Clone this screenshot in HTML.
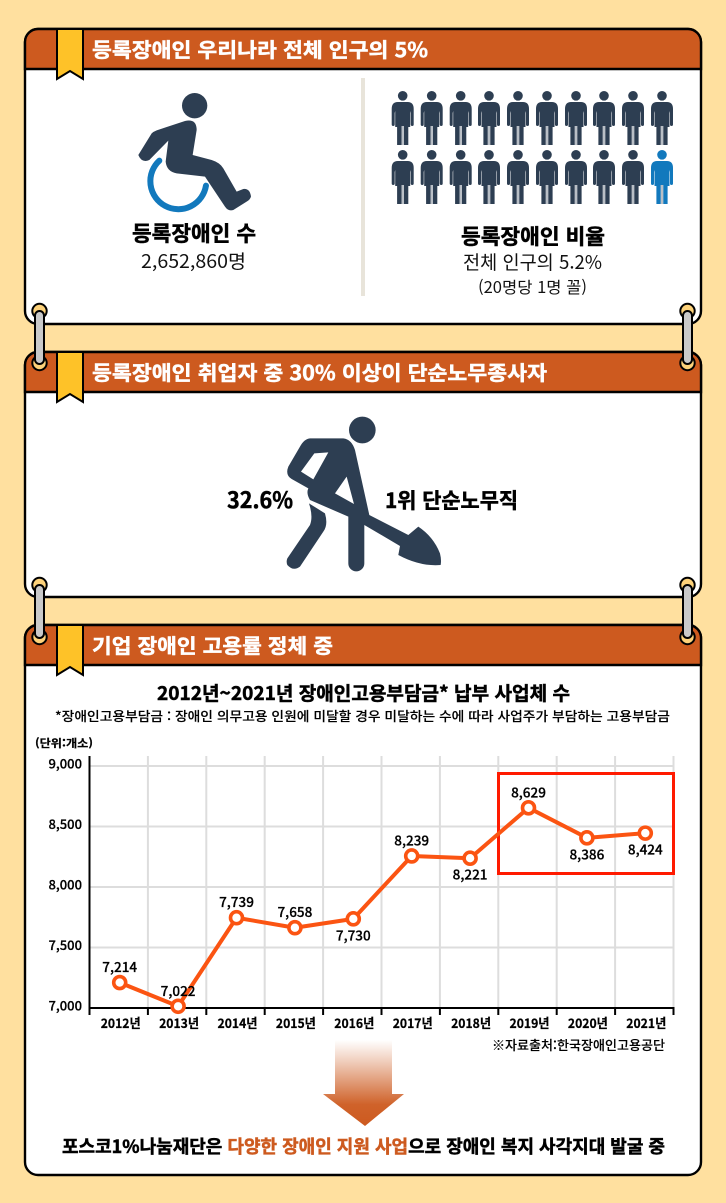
<!DOCTYPE html>
<html lang="ko">
<head>
<meta charset="utf-8">
<title>등록장애인 고용 현황</title>
<style>
html,body{margin:0;padding:0;background:#ffe09f;}
body{width:726px;height:1203px;overflow:hidden;}
svg{display:block;}
text{font-family:"Liberation Sans","Noto Sans CJK KR",sans-serif;}
.kr{font-family:"Noto Sans CJK KR","Liberation Sans",sans-serif;}
.hd{font-weight:700;font-size:20px;fill:#fff;stroke:#fff;stroke-width:.45px;}
.bd{font-weight:700;fill:#000;stroke:#000;stroke-width:.5px;}
.lt{font-weight:400;fill:#111;}
.md{font-weight:500;fill:#000;stroke:#000;stroke-width:.12px;}
.val{stroke:#000;stroke-width:.25px;}
</style>
</head>
<body>
<svg id="page" xmlns="http://www.w3.org/2000/svg" xmlns:xlink="http://www.w3.org/1999/xlink" width="726" height="1203" viewBox="0 0 726 1203">
<defs>
  <g id="person">
    <circle cx="0" cy="4.8" r="4.8"/>
    <path d="M-5 11H5Q11 11 11 18V33.5a1.5 1.5 0 0 1-3 0V22L7.5 20V36H5.6V54H1.2V35H-1.2V54H-5.6V36H-7.5V20L-8 22V33.5a1.5 1.5 0 0 1-3 0V18Q-11 11-5 11Z"/>
    <rect x="-1.2" y="35" width="2.4" height="19" fill="#b9bfc6"/>
  </g>
  <linearGradient id="arrowGrad" x1="0" y1="1040" x2="0" y2="1126" gradientUnits="userSpaceOnUse">
    <stop offset="0" stop-color="#cd5a1f" stop-opacity="0"/>
    <stop offset="0.25" stop-color="#cd5a1f" stop-opacity="0.3"/>
    <stop offset="0.75" stop-color="#cd5a1f" stop-opacity="0.95"/>
    <stop offset="1" stop-color="#cd5a1f"/>
  </linearGradient>
</defs>

<rect x="0" y="0" width="726" height="1203" fill="#ffe09f"/>

<!-- Panel 1 -->
<g>
  <rect x="25" y="29" width="676" height="295" rx="13" fill="#fff" stroke="#000" stroke-width="2.4"/>
  <path d="M25 69V42a13 13 0 0 1 13-13H688a13 13 0 0 1 13 13V69Z" fill="#cd5a1f" stroke="#000" stroke-width="2.4"/>
  <path d="M57 29H83V79L70 71L57 79Z" fill="#fec228" stroke="#000" stroke-width="2"/>
  <text class="kr hd" x="92" y="57" textLength="336" lengthAdjust="spacingAndGlyphs">등록장애인 우리나라 전체 인구의 5%</text>

  <g transform="translate(20 20) scale(0.3333)">
    <path d="M418 422A84 84 0 1 0 558 497" fill="none" stroke="#1279bd" stroke-width="18" stroke-linecap="round"/>
    <circle cx="524" cy="257" r="38" fill="#2d3e52"/>
    <path d="M355 405L395 340Q400 335 410 331L495 303Q530 295 530 330L518 405L575 420Q600 428 610 445L650 515L670 507Q690 505 693 530Q690 540 680 545L640 570Q625 575 615 560L555 470L470 460Q440 455 437 425L445 362L388 420Q365 430 355 405Z" fill="#2d3e52"/>
  </g>
  <text class="kr bd" x="132" y="241" font-size="21" textLength="124" lengthAdjust="spacingAndGlyphs">등록장애인 수</text>
  <text class="kr lt" x="141" y="268" font-size="19" textLength="105" lengthAdjust="spacingAndGlyphs">2,652,860명</text>

  <rect x="361" y="78" width="4" height="218" fill="#e8e4da"/>

  <g fill="#2d3e52">
    <use href="#person" x="402.7" y="91"/>
    <use href="#person" x="431.7" y="91"/>
    <use href="#person" x="460.7" y="91"/>
    <use href="#person" x="489" y="91"/>
    <use href="#person" x="518" y="91"/>
    <use href="#person" x="547" y="91"/>
    <use href="#person" x="576" y="91"/>
    <use href="#person" x="604" y="91"/>
    <use href="#person" x="633" y="91"/>
    <use href="#person" x="662" y="91"/>
    <use href="#person" x="402.7" y="150"/>
    <use href="#person" x="431.7" y="150"/>
    <use href="#person" x="460.7" y="150"/>
    <use href="#person" x="489" y="150"/>
    <use href="#person" x="518" y="150"/>
    <use href="#person" x="547" y="150"/>
    <use href="#person" x="576" y="150"/>
    <use href="#person" x="604" y="150"/>
    <use href="#person" x="633" y="150"/>
    <use href="#person" x="662" y="150" fill="#1279bd"/>
  </g>
  <text class="kr bd" x="461" y="244" font-size="21" textLength="144" lengthAdjust="spacingAndGlyphs">등록장애인 비율</text>
  <text class="kr lt" x="463" y="269" font-size="19" textLength="139" lengthAdjust="spacingAndGlyphs">전체 인구의 5.2%</text>
  <text class="kr lt" x="478" y="293" font-size="16" textLength="109" lengthAdjust="spacingAndGlyphs">(20명당 1명 꼴)</text>
</g>

<!-- Panel 2 -->
<g>
  <rect x="25" y="352" width="676" height="245" rx="13" fill="#fff" stroke="#000" stroke-width="2.4"/>
  <path d="M25 392V365a13 13 0 0 1 13-13H688a13 13 0 0 1 13 13V392Z" fill="#cd5a1f" stroke="#000" stroke-width="2.4"/>
  <path d="M57 352H83V402L70 394L57 402Z" fill="#fec228" stroke="#000" stroke-width="2"/>
  <text class="kr hd" x="92" y="380" textLength="455" lengthAdjust="spacingAndGlyphs">등록장애인 취업자 중 30% 이상이 단순노무종사자</text>

  <g transform="translate(200 400) scale(0.3333)" fill="#2d3e52">
    <circle cx="487" cy="90" r="40"/>
    <path fill-rule="evenodd" d="M330 115H430Q455 118 465 150L508 345L625 405L655 380Q700 410 720 460Q725 480 722 495Q660 500 595 465L600 438L493 375V490a24 24 0 0 1-48 0V350L330 300Q318 280 325 265L275 237Q255 225 265 200L300 140Q312 117 330 115ZM343 160L385 157L340 238L303 215ZM440 230L405 280L462 312Z"/>
    <path d="M327 310L375 340Q385 375 370 395L300 500Q280 515 262 495Q258 485 262 475L330 375Q340 350 327 310Z"/>
  </g>
  <text class="kr bd" x="227" y="508" font-size="22" textLength="66" lengthAdjust="spacingAndGlyphs">32.6%</text>
  <text class="kr bd" x="385" y="508" font-size="21" textLength="133" lengthAdjust="spacingAndGlyphs">1위 단순노무직</text>
</g>

<!-- Panel 3 -->
<g>
  <rect x="25" y="625" width="676" height="550" rx="13" fill="#fff" stroke="#000" stroke-width="2.4"/>
  <path d="M25 665V638a13 13 0 0 1 13-13H688a13 13 0 0 1 13 13V665Z" fill="#cd5a1f" stroke="#000" stroke-width="2.4"/>
  <path d="M57 625H83V675L70 667L57 675Z" fill="#fec228" stroke="#000" stroke-width="2"/>
  <text class="kr hd" x="92" y="653" textLength="241" lengthAdjust="spacingAndGlyphs">기업 장애인 고용률 정체 중</text>

  <text class="kr bd" x="157" y="700" font-size="19" textLength="413" lengthAdjust="spacingAndGlyphs">2012년~2021년 장애인고용부담금* 납부 사업체 수</text>
  <text class="kr md" x="55" y="721" font-size="13" textLength="615" lengthAdjust="spacingAndGlyphs">*장애인고용부담금 : 장애인 의무고용 인원에 미달할 경우 미달하는 수에 따라 사업주가 부담하는 고용부담금</text>
  <text class="kr bd" style="stroke-width:.2px" x="35" y="747" font-size="11" textLength="58" lengthAdjust="spacingAndGlyphs">(단위:개소)</text>

  <g id="chart"></g>

  <text class="kr md" x="492" y="1050" font-size="13" textLength="173" lengthAdjust="spacingAndGlyphs">※자료출처:한국장애인고용공단</text>

  <path d="M335 1040H392V1094H404L365 1126L323 1094H335Z" fill="url(#arrowGrad)"/>
  <text class="kr bd" x="62" y="1153" font-size="18" textLength="603" lengthAdjust="spacingAndGlyphs">포스코1%나눔재단은 <tspan fill="#cd5a1f" stroke="#cd5a1f">다양한 장애인 지원 사업</tspan>으로 장애인 복지 사각지대 발굴 중</text>
</g>

<!-- Connector rings -->
<g>
  <circle cx="39.5" cy="311" r="7.2" fill="#fdd27a" stroke="#000" stroke-width="2"/>
  <circle cx="39.5" cy="363" r="7.2" fill="#fdd27a" stroke="#000" stroke-width="2"/>
  <rect x="35" y="311" width="9" height="53" rx="4.5" fill="#c9c9c9" stroke="#000" stroke-width="2"/>
</g>
<g>
  <circle cx="687.5" cy="311" r="7.2" fill="#fdd27a" stroke="#000" stroke-width="2"/>
  <circle cx="687.5" cy="363" r="7.2" fill="#fdd27a" stroke="#000" stroke-width="2"/>
  <rect x="683" y="311" width="9" height="53" rx="4.5" fill="#c9c9c9" stroke="#000" stroke-width="2"/>
</g>
<g>
  <circle cx="39.5" cy="585" r="7.2" fill="#fdd27a" stroke="#000" stroke-width="2"/>
  <circle cx="39.5" cy="637" r="7.2" fill="#fdd27a" stroke="#000" stroke-width="2"/>
  <rect x="35" y="585" width="9" height="53" rx="4.5" fill="#c9c9c9" stroke="#000" stroke-width="2"/>
</g>
<g>
  <circle cx="687.5" cy="585" r="7.2" fill="#fdd27a" stroke="#000" stroke-width="2"/>
  <circle cx="687.5" cy="637" r="7.2" fill="#fdd27a" stroke="#000" stroke-width="2"/>
  <rect x="683" y="585" width="9" height="53" rx="4.5" fill="#c9c9c9" stroke="#000" stroke-width="2"/>
</g>
</svg>

<script>
const categories = ['2012년','2013년','2014년','2015년','2016년','2017년','2018년','2019년','2020년','2021년'];
const employerCounts = [7214,7022,7739,7658,7730,8239,8221,8629,8386,8424];
const labelAbove = [true,true,true,true,false,true,false,true,false,false];
const yTicks = [7000,7500,8000,8500,9000];
const yTickLabels = ['7,000','7,500','8,000','8,500','9,000'];

const SVG_NS = 'http://www.w3.org/2000/svg';
const chart = document.getElementById('chart');
const plotLeft = 89.5, plotRight = 673.5, plotTop = 756, axisBottom = 1008;
const band = (plotRight - plotLeft) / categories.length;

function bandEdge(i) { return plotLeft + band * i; }
function xScale(i) { return plotLeft + band * (i + 0.5) + 1; }
function gridY(v) { return 1008 - (v - 7000) * 0.121; }
function yScale(v) { return 1009 - (v - 7000) * 0.1235; }
function formatValue(v) { return String(v).replace(/\B(?=(\d{3})+$)/g, ','); }

function make(tag, attrs) {
  const el = document.createElementNS(SVG_NS, tag);
  Object.keys(attrs).forEach(function (k) { el.setAttribute(k, attrs[k]); });
  chart.appendChild(el);
  return el;
}

yTicks.forEach(function (t, i) {
  if (t !== 7000) {
    const g = make('line', {x1: plotLeft, x2: plotRight, y1: gridY(t), y2: gridY(t), stroke: '#dddddd', 'stroke-width': 2});
    
    
  }
  const lab = make('text', {x: 82, y: gridY(t) + 2.5, 'text-anchor': 'end', 'font-size': 13, 'font-weight': 500, fill: '#000', 'class': 'kr val'});
  lab.textContent = yTickLabels[i];
  
  
});

for (let i = 1; i <= categories.length; i++) {
  const v = make('line', {x1: bandEdge(i), x2: bandEdge(i), y1: plotTop, y2: axisBottom, stroke: '#dddddd', 'stroke-width': 2});
  
  
}

const yAxis = make('line', {x1: plotLeft, x2: plotLeft, y1: plotTop, y2: axisBottom + 7, stroke: '#000', 'stroke-width': 2});


const xAxis = make('line', {x1: plotLeft, x2: plotRight + 1, y1: axisBottom, y2: axisBottom, stroke: '#000', 'stroke-width': 2});



categories.forEach(function (c, i) {
  const tick = make('line', {x1: bandEdge(i + 1), x2: bandEdge(i + 1), y1: axisBottom, y2: axisBottom + 7, stroke: '#000', 'stroke-width': 2});
  
  
  const lab = make('text', {x: xScale(i) + 1, y: 1028, 'text-anchor': 'middle', 'font-size': 13, 'font-weight': 700, fill: '#000', 'class': 'kr val', textLength: 40, lengthAdjust: 'spacingAndGlyphs'});
  lab.textContent = c;
  
  
});

const highlight = make('rect', {x: 498.5, y: 773.5, width: 175, height: 100, fill: 'none', stroke: '#ff1a00', 'stroke-width': 3});



const seriesLine = make('polyline', {
  points: employerCounts.map(function (v, i) { return xScale(i) + ',' + yScale(v); }).join(' '),
  fill: 'none', stroke: '#fb5412', 'stroke-width': 4, 'stroke-linejoin': 'round'
});



employerCounts.forEach(function (v, i) {
  const pt = make('circle', {cx: xScale(i), cy: yScale(v), r: 6, fill: '#fff', stroke: '#fb5412', 'stroke-width': 3.6});
  
  
  const lab = make('text', {x: xScale(i), y: yScale(v) + (labelAbove[i] ? -10.5 : 21.5), 'text-anchor': 'middle', 'font-size': 13.5, 'font-weight': 500, fill: '#000', 'class': 'kr val'});
  lab.textContent = formatValue(v);
  
  
});
</script>
</body>
</html>
